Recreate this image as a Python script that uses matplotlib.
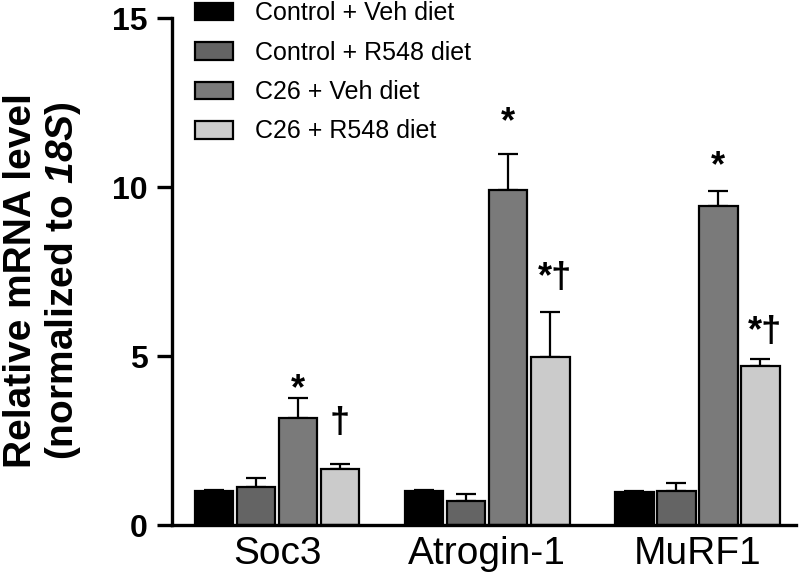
import matplotlib
matplotlib.use("Agg")
import matplotlib.pyplot as plt
import numpy as np

plt.rcParams["font.family"] = ["Liberation Sans", "DejaVu Sans"]
plt.rcParams["mathtext.fontset"] = "custom"
# only "18S" goes through mathtext: draw it bold italic
plt.rcParams["mathtext.rm"] = "Liberation Sans:bold:italic"
plt.rcParams["mathtext.it"] = "Liberation Sans:bold:italic"

genes = ["Soc3", "Atrogin-1", "MuRF1"]
groups = ["Control + Veh diet", "Control + R548 diet", "C26 + Veh diet", "C26 + R548 diet"]
colors = ["#000000", "#646464", "#7a7a7a", "#cbcbcb"]

ctrl_veh = [1.0, 1.0, 0.98]
ctrl_r548 = [1.12, 0.70, 1.02]
c26_veh = [3.17, 9.92, 9.44]
c26_r548 = [1.66, 4.98, 4.72]
means = [ctrl_veh, ctrl_r548, c26_veh, c26_r548]

err_ctrl_veh = [0.04, 0.04, 0.04]
err_ctrl_r548 = [0.27, 0.23, 0.23]
err_c26_veh = [0.58, 1.06, 0.45]
err_c26_r548 = [0.15, 1.33, 0.18]
errs = [err_ctrl_veh, err_ctrl_r548, err_c26_veh, err_c26_r548]

# significance marks: (gene index, group index, text, y)
marks = [(0, 2, "*", 4.0), (0, 3, "\u2020", 3.0),
         (1, 2, "*", 11.9), (1, 3, "*\u2020", 7.3),
         (2, 2, "*", 10.6), (2, 3, "*\u2020", 5.7)]

fig = plt.figure(figsize=(8, 5.87), dpi=100)
ax = fig.add_axes([0.215, 0.1056, 0.78, 0.8634])

base = np.arange(len(genes)) * 5.0
for i, (m, e, c, lab) in enumerate(zip(means, errs, colors, groups)):
    x = base + i
    ax.bar(x, m, width=0.92, color=c, edgecolor="black", linewidth=1.6, label=lab, zorder=2)
    ax.errorbar(x, m, yerr=[np.zeros(len(m)), e], fmt="none", ecolor="black",
                elinewidth=1.6, capsize=7.5, capthick=1.6, zorder=1)

for g, s, txt, y in marks:
    ax.text(base[g] + s + (0.12 if len(txt) > 1 else 0), y, txt, ha="center", va="center",
            fontsize=26, weight="bold")

ax.set_xlim(-1.0, 13.85)
ax.set_ylim(0, 15)
ax.set_yticks([0, 5, 10, 15])
ax.set_yticklabels(["0", "5", "10", "15"], fontsize=23, weight="bold")
ax.set_xticks(base + 1.5)
ax.set_xticklabels(genes, fontsize=28)
ax.tick_params(axis="x", length=0, pad=8)
ax.tick_params(axis="y", length=10.5, width=2.4, pad=7)
for sp in ["top", "right"]:
    ax.spines[sp].set_visible(False)
ax.spines["left"].set_linewidth(2.4)
ax.spines["bottom"].set_linewidth(2.4)
ax.set_ylabel("Relative mRNA level\n(normalized to $\\mathrm{18S}$)", fontsize=28,
              weight="bold", linespacing=1.12)
ax.yaxis.set_label_coords(-0.143, 0.483)

ax.legend(loc="upper left", bbox_to_anchor=(195 / 800, 1 - 1 / 587),
          bbox_transform=fig.transFigure, frameon=False, fontsize=18,
          borderpad=0, borderaxespad=0, handlelength=1.5, handleheight=0.7,
          labelspacing=0.62, handletextpad=0.9)

fig.savefig("out.png", dpi=100, facecolor="white")
